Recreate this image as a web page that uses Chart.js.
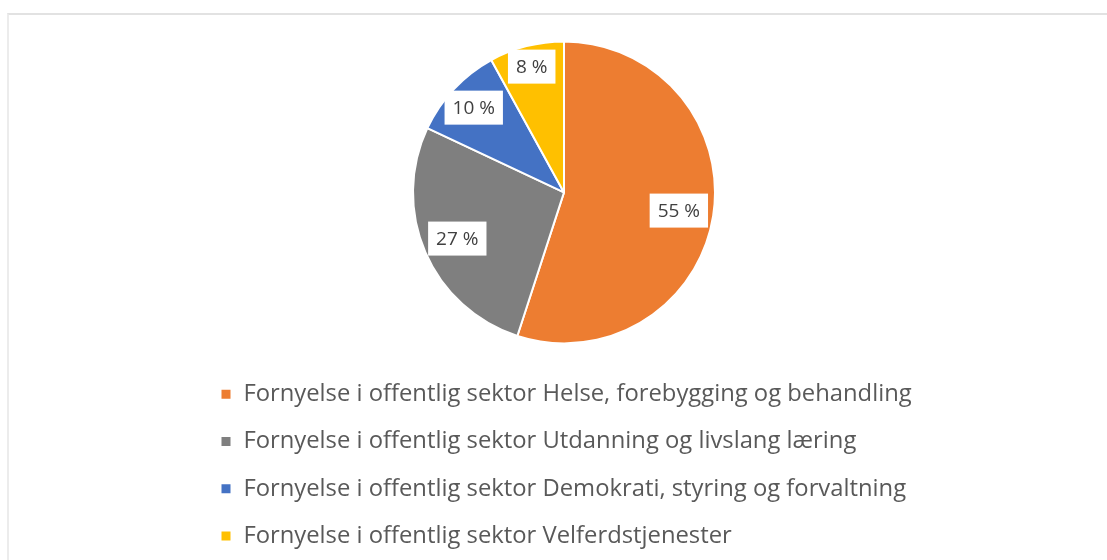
<!DOCTYPE html>
<html>
<head>
<meta charset="utf-8">
<script src="https://cdn.jsdelivr.net/npm/chart.js@4/dist/chart.umd.min.js"></script>
<style>
  html, body { margin: 0; padding: 0; background: #fff; }
  #wrap { position: relative; width: 1107px; height: 560px; overflow: hidden; }
  #ramme { position: absolute; left: 7px; top: 13px; right: -10px; bottom: -10px;
           border-top: 2px solid #e2e2e2; border-left: 2px solid #ececec; }
  #chartPie { position: absolute; left: 0; top: 0; }
</style>
</head>
<body>
<div id="wrap">
  <div id="ramme"></div>
  <canvas id="chartPie" width="1107" height="560"></canvas>
</div>
<script>
// Andel prosjekter per område (prosent)
const kategorier = [
    'Fornyelse i offentlig sektor Helse, forebygging og behandling',
    'Fornyelse i offentlig sektor Utdanning og livslang læring',
    'Fornyelse i offentlig sektor Demokrati, styring og forvaltning',
    'Fornyelse i offentlig sektor Velferdstjenester'
];
const andeler = [55, 27, 10, 8];
const farger = ['#ED7D31', '#7F7F7F', '#4472C4', '#FFC000'];

// hvor langt ut fra sentrum etiketten står (andel av radius)
const etikettAvstand = [0.77, 0.77, 0.82, 0.86];

// Etiketter i hvite bokser inne i hver sektor
const etikettPlugin = {
    id: 'etiketter',
    afterDatasetsDraw(chart) {
        const ctx = chart.ctx;
        const meta = chart.getDatasetMeta(0);
        ctx.save();
        ctx.font = '19px "Open Sans"';
        ctx.textAlign = 'center';
        ctx.textBaseline = 'middle';
        meta.data.forEach((arc, i) => {
            const p = arc.getProps(['x', 'y', 'startAngle', 'endAngle', 'outerRadius'], true);
            const vinkel = (p.startAngle + p.endAngle) / 2;
            const r = p.outerRadius * etikettAvstand[i];
            const x = p.x + Math.cos(vinkel) * r;
            const y = p.y + Math.sin(vinkel) * r;
            const tekst = andeler[i] + ' %';
            const w = ctx.measureText(tekst).width + 16;
            const h = 34;
            ctx.fillStyle = '#ffffff';
            ctx.fillRect(x - w / 2, y - h / 2, w, h);
            ctx.fillStyle = '#404040';
            ctx.fillText(tekst, x, y + 1);
        });
        ctx.restore();
    }
};

new Chart(document.getElementById('chartPie'), {
    type: 'pie',
    data: {
        labels: kategorier,
        datasets: [{
            data: andeler,
            backgroundColor: farger,
            borderColor: '#ffffff',
            borderWidth: 2,
            radius: 151
        }]
    },
    options: {
        responsive: false,
        animation: false,
        layout: {
            padding: { left: 197, right: 176, top: 26, bottom: 2 }
        },
        plugins: {
            tooltip: { enabled: false },
            legend: {
                position: 'bottom',
                align: 'start',
                labels: {
                    boxWidth: 11,
                    boxHeight: 11,
                    padding: 23.5,
                    color: '#595959',
                    font: { family: 'Open Sans', size: 23.8 }
                }
            }
        }
    },
    plugins: [etikettPlugin]
});
</script>
</body>
</html>
